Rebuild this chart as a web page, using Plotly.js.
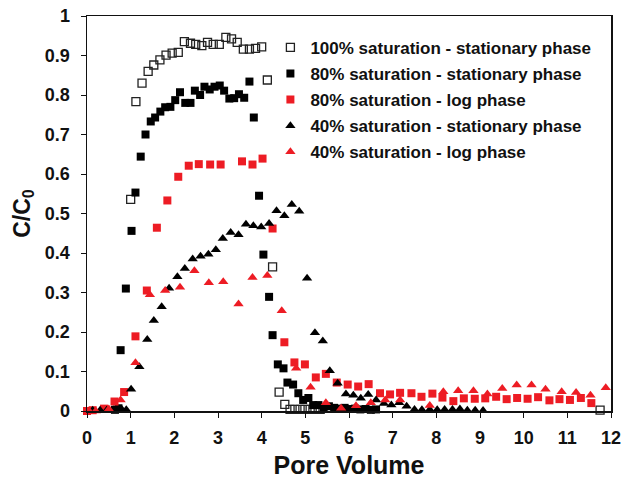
<!DOCTYPE html>
<html>
<head>
<meta charset="utf-8">
<script src="https://cdn.plot.ly/plotly-3.0.1.min.js"></script>
<style>html,body{margin:0;padding:0;background:#fff;}#chart{width:622px;height:489px;}</style>
</head>
<body>
<div id="chart"></div>
<script>
// 100% saturation - stationary phase
const x100s = [1.00, 1.12, 1.26, 1.40, 1.53, 1.67, 1.81, 1.95, 2.09, 2.23, 2.37, 2.49, 2.63, 2.76, 2.89, 3.03, 3.18, 3.31, 3.44, 3.58, 3.72, 3.86, 4.00, 4.13, 4.25, 4.40, 4.53, 4.65, 4.76, 4.88, 4.99, 5.11, 5.22, 5.34, 11.75];
const y100s = [0.536, 0.783, 0.830, 0.860, 0.876, 0.889, 0.901, 0.906, 0.908, 0.935, 0.931, 0.928, 0.925, 0.933, 0.928, 0.928, 0.946, 0.942, 0.933, 0.916, 0.916, 0.918, 0.922, 0.838, 0.365, 0.048, 0.017, 0.004, 0.004, 0.004, 0.004, 0.004, 0.004, 0.004, 0.002];

// 80% saturation - stationary phase
const x80s = [0.64, 0.72, 0.77, 0.89, 1.02, 1.11, 1.23, 1.34, 1.46, 1.56, 1.68, 1.79, 1.91, 2.02, 2.13, 2.25, 2.37, 2.47, 2.59, 2.69, 2.81, 2.92, 3.04, 3.14, 3.26, 3.37, 3.48, 3.60, 3.72, 3.82, 3.94, 4.04, 4.17, 4.25, 4.37, 4.50, 4.59, 4.72, 4.84, 4.95, 5.07, 5.18, 5.30, 5.42, 5.54, 5.66, 5.78, 5.90, 6.02, 6.14, 6.26, 6.38, 6.50, 6.62];
const y80s = [0.003, 0.007, 0.154, 0.310, 0.456, 0.553, 0.644, 0.700, 0.733, 0.743, 0.758, 0.769, 0.770, 0.787, 0.807, 0.780, 0.780, 0.811, 0.800, 0.821, 0.814, 0.821, 0.824, 0.811, 0.791, 0.792, 0.802, 0.793, 0.834, 0.743, 0.545, 0.396, 0.289, 0.192, 0.118, 0.108, 0.072, 0.067, 0.045, 0.028, 0.033, 0.015, 0.015, 0.010, 0.012, 0.008, 0.006, 0.008, 0.005, 0.006, 0.004, 0.005, 0.003, 0.004];

// 80% saturation - log phase
const x80l = [0.00, 0.13, 0.39, 0.63, 0.85, 1.11, 1.37, 1.60, 1.84, 2.09, 2.33, 2.56, 2.82, 3.06, 3.55, 3.79, 4.02, 4.25, 4.52, 4.75, 4.99, 5.24, 5.47, 5.72, 5.97, 6.21, 6.45, 6.71, 6.94, 7.17, 7.43, 7.66, 7.91, 8.14, 8.39, 8.63, 8.88, 9.12, 9.37, 9.61, 9.85, 10.09, 10.33, 10.59, 10.82, 11.06, 11.31, 11.55];
const y80l = [0.000, 0.002, 0.006, 0.024, 0.048, 0.189, 0.305, 0.464, 0.533, 0.593, 0.621, 0.625, 0.624, 0.624, 0.632, 0.624, 0.639, 0.462, 0.174, 0.123, 0.118, 0.085, 0.094, 0.072, 0.067, 0.062, 0.068, 0.045, 0.042, 0.046, 0.045, 0.036, 0.044, 0.034, 0.025, 0.032, 0.031, 0.032, 0.036, 0.030, 0.033, 0.031, 0.035, 0.027, 0.030, 0.028, 0.033, 0.020];

// 40% saturation - stationary phase
const x40s = [0.13, 0.30, 0.45, 0.60, 0.80, 0.90, 1.01, 1.20, 1.38, 1.53, 1.71, 1.88, 2.07, 2.24, 2.42, 2.60, 2.78, 2.95, 3.11, 3.29, 3.47, 3.64, 3.81, 3.99, 4.17, 4.34, 4.52, 4.69, 4.86, 5.04, 5.22, 5.40, 5.56, 5.74, 5.93, 6.10, 6.27, 6.44, 6.62, 6.80, 6.97, 7.15, 7.32, 7.50, 7.67, 7.85, 8.02, 8.19, 8.37, 8.54, 8.71, 8.89, 9.07];
const y40s = [0.002, 0.002, 0.002, 0.003, 0.004, 0.003, 0.055, 0.112, 0.181, 0.229, 0.264, 0.311, 0.340, 0.361, 0.385, 0.392, 0.397, 0.408, 0.437, 0.452, 0.446, 0.473, 0.469, 0.466, 0.475, 0.507, 0.494, 0.523, 0.506, 0.336, 0.198, 0.177, 0.102, 0.070, 0.043, 0.040, 0.032, 0.042, 0.028, 0.019, 0.015, 0.021, 0.012, 0.004, 0.003, 0.004, 0.003, 0.004, 0.004, 0.005, 0.002, 0.002, 0.001];

// 40% saturation - log phase
const x40l = [0.05, 0.20, 0.50, 0.77, 1.11, 1.44, 1.79, 2.13, 2.46, 2.79, 3.12, 3.47, 3.79, 4.13, 4.46, 4.79, 5.12, 5.47, 5.82, 6.16, 6.50, 6.83, 7.17, 7.85, 8.16, 8.50, 8.85, 9.17, 9.51, 9.84, 10.18, 10.50, 10.87, 11.20, 11.53, 11.88];
const y40l = [0.000, 0.000, 0.005, 0.028, 0.122, 0.294, 0.305, 0.313, 0.355, 0.325, 0.327, 0.271, 0.338, 0.343, 0.254, 0.108, 0.060, 0.021, 0.007, 0.013, 0.021, 0.028, 0.028, 0.014, 0.049, 0.051, 0.051, 0.043, 0.057, 0.066, 0.066, 0.055, 0.049, 0.047, 0.040, 0.059];

const names = ['100% saturation - stationary phase', '80% saturation - stationary phase', '80% saturation - log phase', '40% saturation - stationary phase', '40% saturation - log phase'];
const xTicks = [0,1,2,3,4,5,6,7,8,9,10,11,12];
const yTicks = [0,0.1,0.2,0.3,0.4,0.5,0.6,0.7,0.8,0.9,1];
const yTickText = ['0','0.1','0.2','0.3','0.4','0.5','0.6','0.7','0.8','0.9','1'];

const RED = 'rgb(237,28,36)';
const FONT = 'Liberation Sans, Arial, sans-serif';

function tr(x, y, name, sym, col, lineCol, size, grp) {
  return {x: x, y: y, name: name, type: 'scatter', mode: 'markers', legendgroup: grp, cliponaxis: false,
    marker: {symbol: sym, color: col, size: size, line: {color: lineCol, width: sym.indexOf('open') >= 0 ? 1.3 : 0}}};
}

const data = [
  tr(x100s, y100s, names[0], 'square-open', '#222', '#222', 8, 'a'),
  tr(x80s, y80s, names[1], 'square', '#000', '#000', 8, 'b'),
  tr(x80l, y80l, names[2], 'square', RED, RED, 8, 'c'),
  tr(x40s, y40s, names[3], 'triangle-up', '#000', '#000', 9, 'd'),
  tr(x40l, y40l, names[4], 'triangle-up', RED, RED, 9, 'e')
];

const layout = {
  width: 622, height: 489,
  margin: {l: 87, r: 11, t: 16, b: 78},
  paper_bgcolor: '#fff', plot_bgcolor: '#fff',
  font: {family: FONT, color: '#111'},
  showlegend: true,
  legend: {x: 0.35, y: 0.965, xanchor: 'left', yanchor: 'top', bgcolor: 'rgba(0,0,0,0)',
    font: {family: FONT, size: 17, weight: 'bold', color: '#111'}, tracegroupgap: 1, itemwidth: 30},
  xaxis: {range: [0, 12], tickvals: xTicks, ticktext: xTicks.map(String), showgrid: false, zeroline: false,
    showline: true, linecolor: '#111', linewidth: 1.5, mirror: true, ticks: 'outside', ticklen: 5, tickcolor: '#111',
    ticklabelstandoff: 5,
    tickfont: {family: FONT, size: 18, weight: 'bold', color: '#111'},
    title: {text: 'Pore Volume', font: {family: FONT, size: 25, weight: 'bold', color: '#111'}, standoff: 9}},
  yaxis: {range: [0, 1], tickvals: yTicks, ticktext: yTickText, showgrid: false, zeroline: false,
    showline: true, linecolor: '#111', linewidth: 1.5, mirror: true, ticks: 'outside', ticklen: 5, tickcolor: '#111',
    ticklabelstandoff: 7,
    tickfont: {family: FONT, size: 18, weight: 'bold', color: '#111'},
    title: {text: 'C/C<sub>0</sub>', font: {family: FONT, size: 23, weight: 'bold', color: '#111'}, standoff: 8}}
};

Plotly.newPlot('chart', data, layout, {displayModeBar: false, staticPlot: true});
</script>
</body>
</html>
